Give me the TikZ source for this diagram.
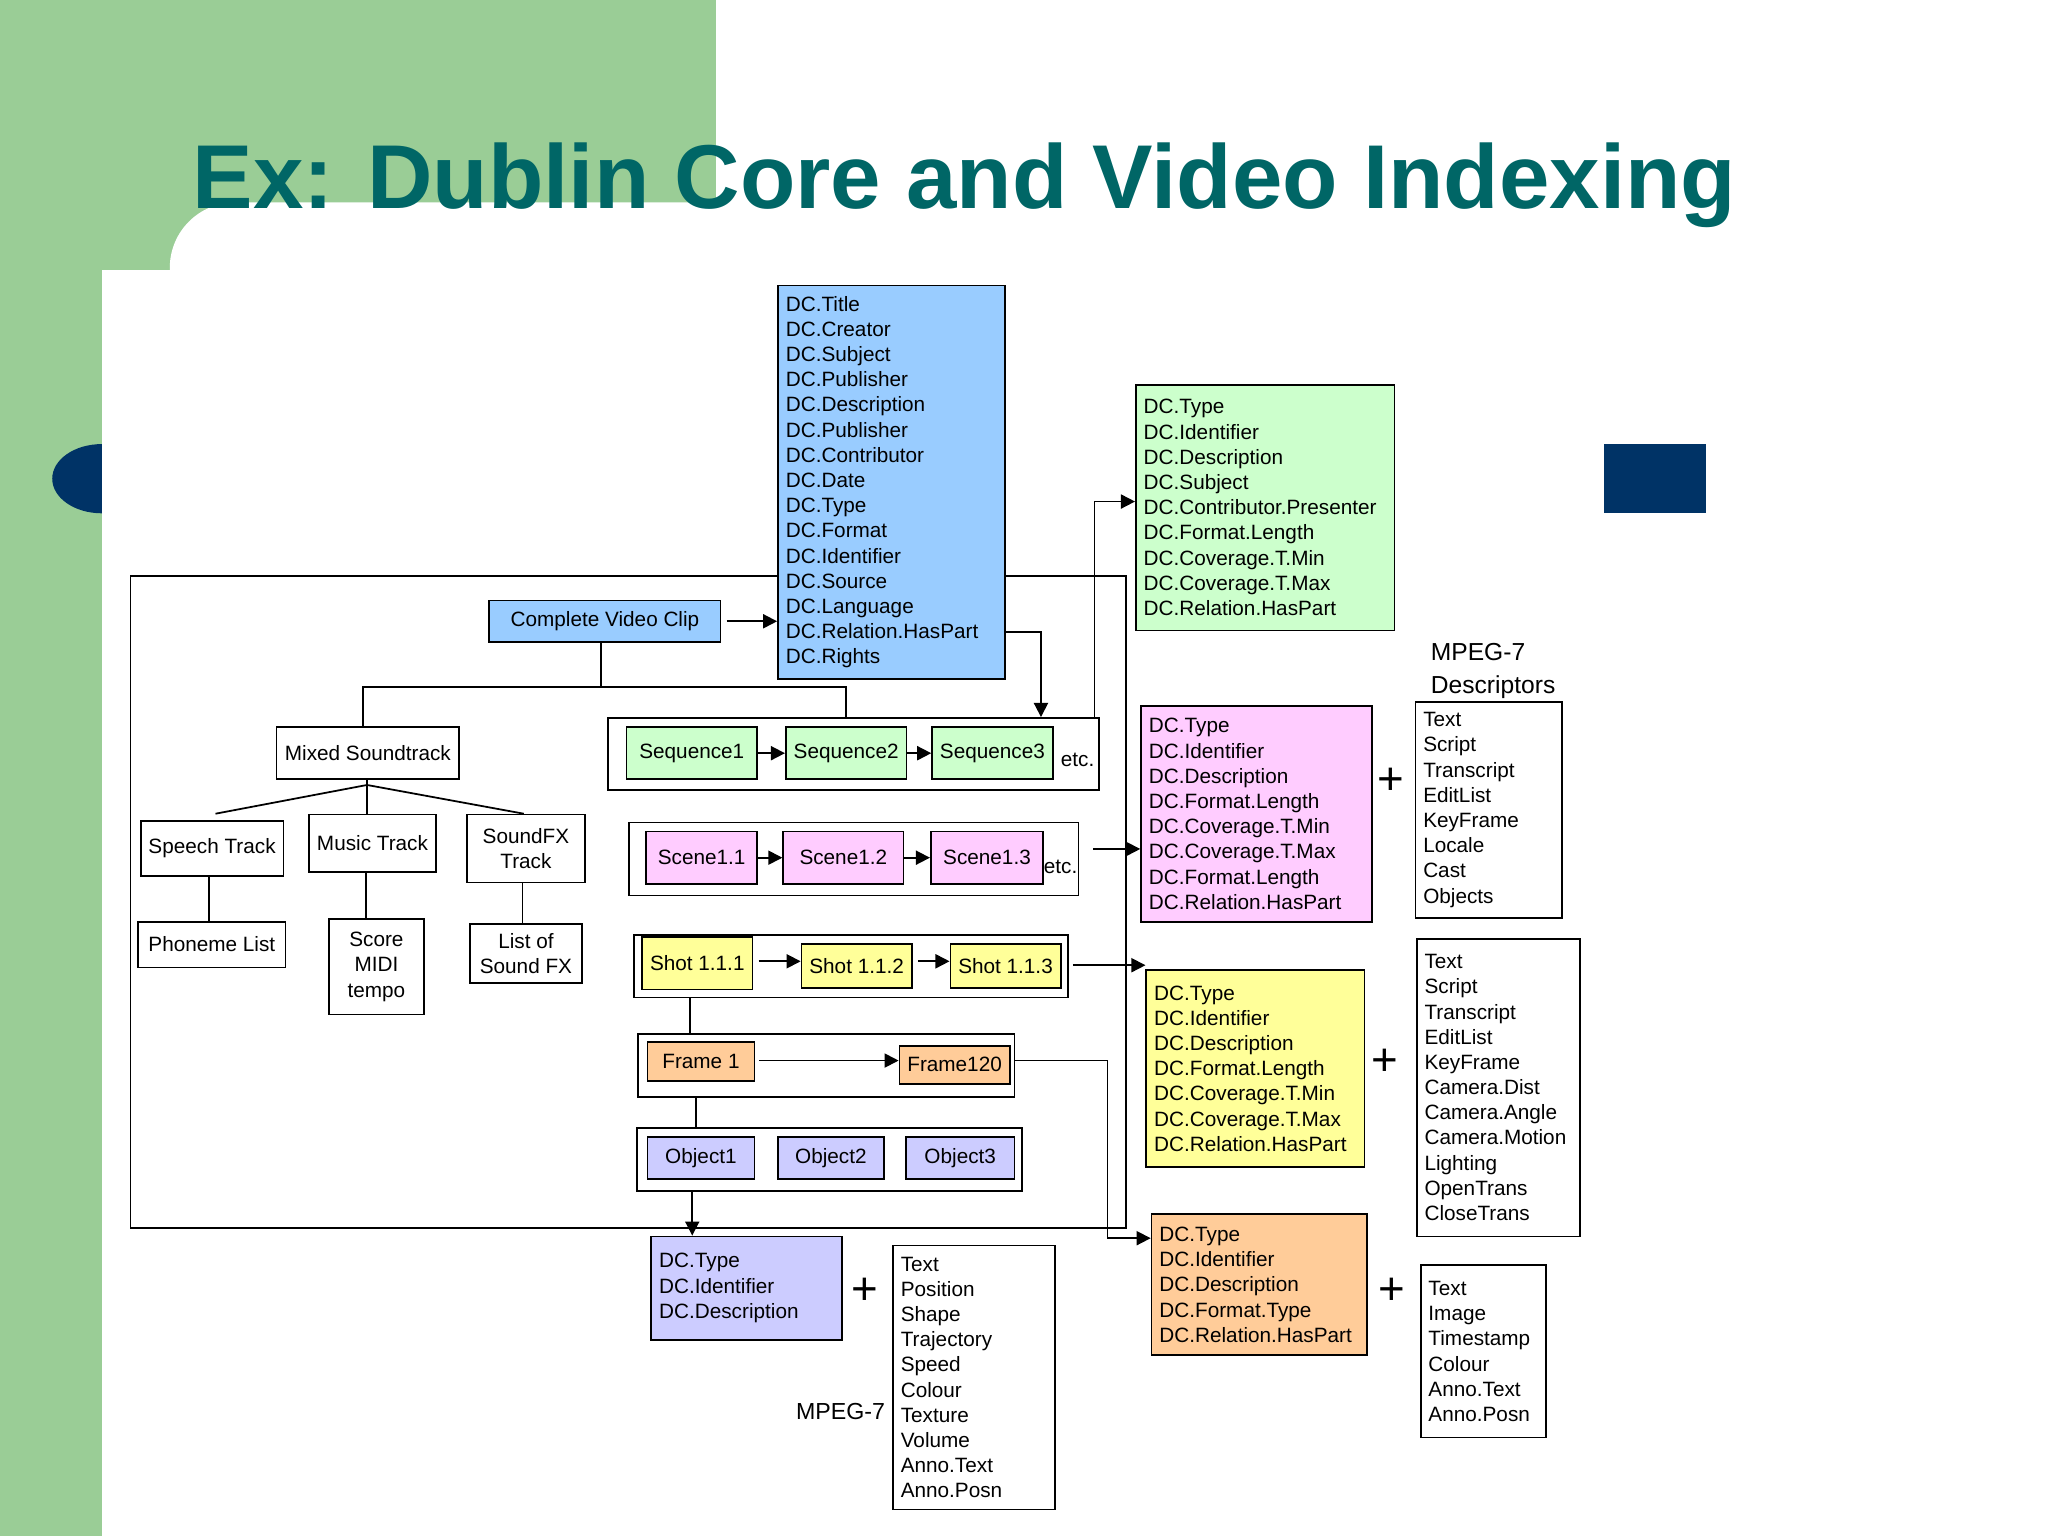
\documentclass[tikz,border=0pt]{standalone}
\usepackage{fontspec}
\setmainfont{Liberation Sans}
\usetikzlibrary{arrows.meta}
\def\u{0.01306cm}
\definecolor{gbg}{HTML}{9ACD96}
\definecolor{navy}{HTML}{003366}
\definecolor{teal}{HTML}{006666}
\definecolor{cb}{HTML}{99CCFF}
\definecolor{cg}{HTML}{CCFFCC}
\definecolor{cp}{HTML}{FFCCFF}
\definecolor{cy}{HTML}{FFFF99}
\definecolor{co}{HTML}{FFCC99}
\definecolor{cv}{HTML}{CCCCFF}
\newcommand\dcf{\fontsize{5.9}{7.17}\selectfont}
\newcommand\bx[7]{\node[box,fill=#6,anchor=north west,minimum width={(#4-#2)*\u},minimum height={(#5-#3)*\u}] (#1) at (#2,#3) {#7};}
\newcommand\lbx[8]{\node[box,fill=#6,anchor=north west,align=left,text width={(#4-#2-#8)*\u},minimum height={(#5-#3)*\u}] (#1) at (#2,#3) {#7};}
\tikzset{box/.style={draw,line width=0.5pt,inner xsep={6*\u},inner ysep={4*\u},font=\dcf},
 con/.style={line width=0.5pt},
 arr/.style={con,-{Triangle[length=4pt,width=4pt]}},
 pl/.style={font=\fontsize{13}{13}\selectfont\addfontfeature{}}}
\begin{document}
\begin{tikzpicture}[x=\u,y=-\u]
\useasboundingbox (0,0) rectangle (1568,1176);
\fill[gbg] (0,0) rectangle (1568,1176);
\fill[white,rounded corners={50*\u}] (130,155) rectangle (1600,1250);
\fill[white] (548,-5) rectangle (1573,260);
\fill[white] (78,207) rectangle (1573,1181);
\fill[navy] (78,340) arc[start angle=90,end angle=270,x radius={38*\u},y radius={26.5*\u}] -- cycle;
\fill[navy] (1228,340) rectangle (1306,393);
\node[anchor=base west,inner sep=0,text=teal,font=\fontsize{25.8}{28}\selectfont\bfseries] (title) at (147,160) {Ex: Dublin Core and Video Indexing};
% outer frame
\draw[con] (100,441) rectangle (862,940);
% main DC
\lbx{dcm}{595}{218}{781}{519}{cb}{DC.Title\\DC.Creator\\DC.Subject\\DC.Publisher\\DC.Description\\DC.Publisher\\DC.Contributor\\DC.Date\\DC.Type\\DC.Format\\DC.Identifier\\DC.Source\\DC.Language\\DC.Relation.HasPart\\DC.Rights}{24}
\lbx{dcg}{869}{294}{1069}{482}{cg}{DC.Type\\DC.Identifier\\DC.Description\\DC.Subject\\DC.Contributor.Presenter\\DC.Format.Length\\DC.Coverage.T.Min\\DC.Coverage.T.Max\\DC.Relation.HasPart}{14}
\lbx{dcp}{873}{540}{1052}{705}{cp}{DC.Type\\DC.Identifier\\DC.Description\\DC.Format.Length\\DC.Coverage.T.Min\\DC.Coverage.T.Max\\DC.Format.Length\\DC.Relation.HasPart}{14}
\lbx{dcy}{877}{742}{1046}{893}{cy}{DC.Type\\DC.Identifier\\DC.Description\\DC.Format.Length\\DC.Coverage.T.Min\\DC.Coverage.T.Max\\DC.Relation.HasPart}{14}
\lbx{dco}{881}{929}{1048}{1037}{co}{DC.Type\\DC.Identifier\\DC.Description\\DC.Format.Type\\DC.Relation.HasPart}{14}
\lbx{dcv}{498}{946}{646}{1025}{cv}{DC.Type\\DC.Identifier\\DC.Description}{14}
\lbx{m1}{1083}{537}{1197}{702}{white}{Text\\Script\\Transcript\\EditList\\KeyFrame\\Locale\\Cast\\Objects}{14}
\lbx{m2}{1084}{718}{1211}{946}{white}{Text\\Script\\Transcript\\EditList\\KeyFrame\\Camera.Dist\\Camera.Angle\\Camera.Motion\\Lighting\\OpenTrans\\CloseTrans}{14}
\lbx{m3}{1087}{968}{1185}{1100}{white}{Text\\Image\\Timestamp\\Colour\\Anno.Text\\Anno.Posn}{14}
\lbx{m4}{683}{953}{809}{1155}{white}{Text\\Position\\Shape\\Trajectory\\Speed\\Colour\\Texture\\Volume\\Anno.Text\\Anno.Posn}{14}
\node[anchor=north west,align=left,inner sep=0,font=\fontsize{7}{9.5}\selectfont] (mdesc) at (1095,492) {MPEG-7\\Descriptors};
\node[anchor=west,inner sep=0,font=\fontsize{6.6}{9}\selectfont] (mp7) at (609,1081) {MPEG-7};
\node[pl] (p1) at (1065,598) {+};
\node[pl] (p2) at (1060,813) {+};
\node[pl] (p3) at (1066,989) {+};
\node[pl] (p4) at (662,989) {+};
% tree
\bx{cvc}{374}{459}{551}{491}{cb}{Complete Video Clip}
\draw[arr] (cvc.east) ++(4,0) -- (dcm.west |- cvc.east);
\bx{mix}{211}{556}{351}{596}{white}{Mixed Soundtrack}
\bx{sqo}{465}{549}{841}{604}{white}{}
\draw[con] (cvc.south -| 460,0) -- (460,526);
\draw[con] (mix.north -| 278,0) -- (278,526) -- (648,526) -- (sqo.north -| 648,0);
\bx{sp}{107}{628}{213}{670}{white}{Speech Track}
\bx{mu}{236}{623}{333}{667}{white}{Music Track}
\node[box,anchor=north west,minimum width={90*\u},minimum height={52*\u},align=center] (sfx) at (357,623) {SoundFX\\Track};
\coordinate (fan) at (281,601);
\draw[con] (mix.south -| fan) -- (fan) -- (165,623);
\draw[con] (fan) -- (401,623);
\draw[con] (fan) -- (mu.north -| fan);
\bx{ph}{105}{705}{218}{740}{white}{Phoneme List}
\node[box,anchor=north west,minimum width={73*\u},minimum height={73*\u},align=center] (sc) at (251,703) {Score\\MIDI\\tempo};
\node[box,anchor=north west,minimum width={86*\u},minimum height={45*\u},align=center] (lsf) at (359,707) {List of\\Sound FX};
\draw[con] (sp.south -| 160,0) -- (ph.north -| 160,0);
\draw[con] (mu.south -| 280,0) -- (sc.north -| 280,0);
\draw[con] (sfx.south -| 400,0) -- (lsf.north -| 400,0);
% sequences
\bx{s1}{479}{556}{579}{596}{cg}{Sequence1}
\bx{s2}{601}{556}{691}{596}{cg}{Sequence2}
\bx{s3}{713}{556}{803}{596}{cg}{Sequence3}
\node[font=\dcf,inner sep=0] (etc1) at (825,582) {etc.};
\draw[arr] (s1.east) -- (s2.west);
\draw[arr] (s2.east) -- (s3.west);
\draw[arr] (dcm.east |- 0,484) -- (797,484) -- (sqo.north -| 797,0);
\draw[arr] (sqo.north -| 838,0) -- (838,384) -- (dcg.west |- 0,384);
% scenes
\bx{sco}{481}{629}{825}{685}{white}{}
\bx{c1}{494}{636}{579}{676}{cp}{Scene1.1}
\bx{c2}{599}{636}{691}{676}{cp}{Scene1.2}
\bx{c3}{712}{636}{798}{676}{cp}{Scene1.3}
\node[font=\dcf,inner sep=0] (etc2) at (812,664) {etc.};
\draw[arr] (c1.east) -- (c2.west);
\draw[arr] (c2.east) -- (c3.west);
\draw[arr] (837,650) -- (dcp.west |- 0,650);
% shots
\bx{sho}{485}{715}{817}{763}{white}{}
\bx{h1}{491}{717}{571}{757}{cy}{Shot 1.1.1}
\bx{h2}{613}{722}{692}{756}{cy}{Shot 1.1.2}
\bx{h3}{727}{722}{810}{756}{cy}{Shot 1.1.3}
\draw[arr] (h1.east |- 0,736) ++(4,0) -- (h2.west |- 0,736);
\draw[arr] (h2.east |- 0,736) ++(4,0) -- (h3.west |- 0,736);
\draw[arr] (sho.east |- 0,739) ++(3,0) -- (dcy.west |- 0,739);
% frames
\bx{fro}{488}{791}{776}{839}{white}{}
\bx{f1}{495}{797}{577}{827}{co}{Frame 1}
\bx{f2}{688}{800}{768}{829}{co}{Frame120}
\draw[con] (sho.south -| 528,0) -- (fro.north -| 528,0);
\draw[arr] (f1.east |- 0,812) ++(3,0) -- (f2.west |- 0,812);
\draw[arr] (fro.east |- 0,812) -- (848,812) -- (848,948) -- (dco.west |- 0,948);
% objects
\bx{obo}{487}{863}{782}{911}{white}{}
\bx{o1}{495}{870}{577}{902}{cv}{Object1}
\bx{o2}{595}{870}{676}{902}{cv}{Object2}
\bx{o3}{693}{870}{776}{902}{cv}{Object3}
\draw[con] (fro.south -| 533,0) -- (obo.north -| 533,0);
\draw[arr] (obo.south -| 530,0) -- (dcv.north -| 530,0);
\end{tikzpicture}
\end{document}
